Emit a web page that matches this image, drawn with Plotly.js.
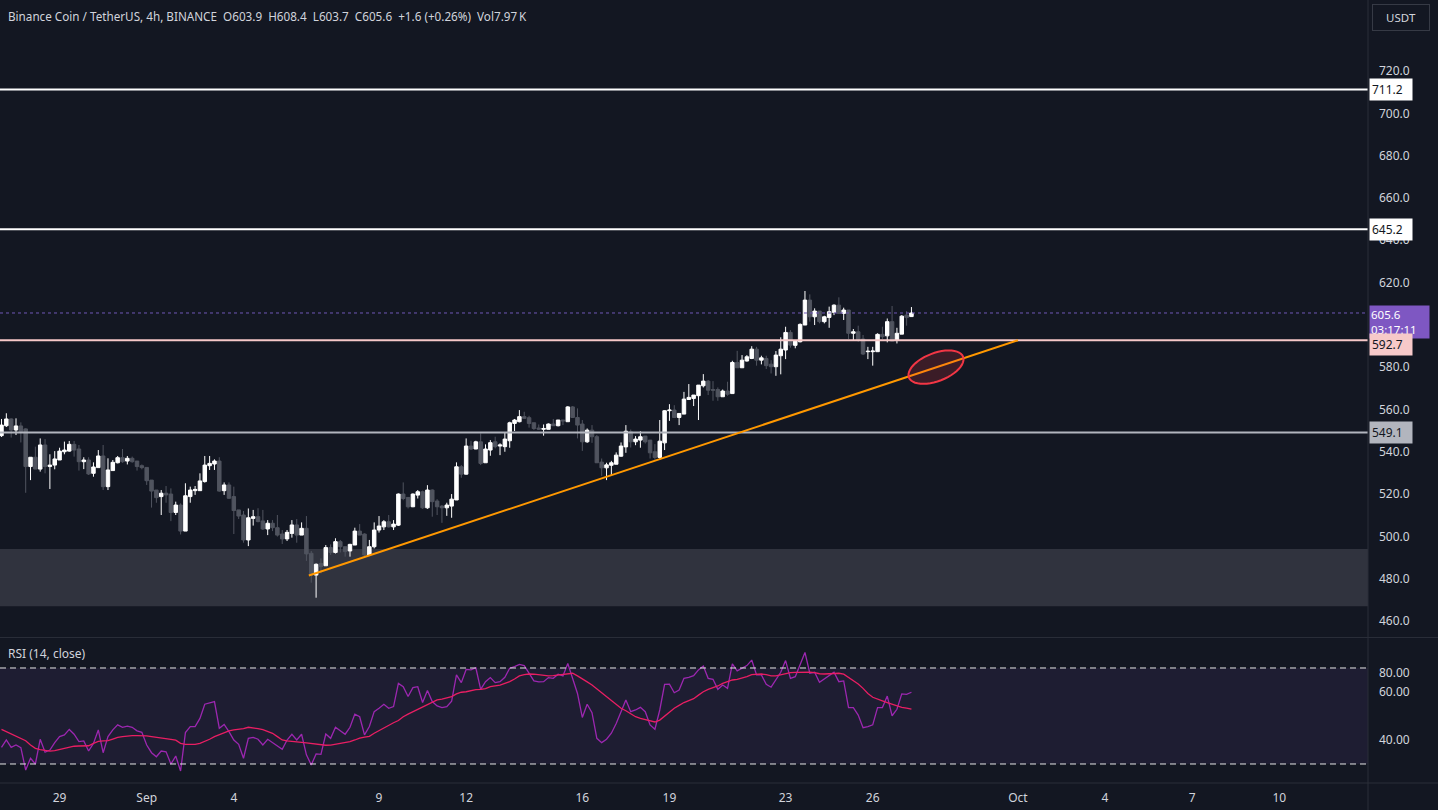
<!DOCTYPE html>
<html><head><meta charset="utf-8">
<script src="https://cdn.plot.ly/plotly-3.0.1.min.js"></script>
<style>html,body{margin:0;padding:0;background:#131722;overflow:hidden}#chart{width:1438px;height:810px}</style>
</head><body><div id="chart"></div>
<script>
// ---- data (4h candles, BNB/USDT) ----
const startTime = '2024-08-27T00:00:00Z';
const barHours = 4;
const openP = [547.6,552.3,555.5,550.3,552.2,550.8,533.0,537.4,531.8,543.2,
533.0,533.7,536.1,540.0,540.3,543.5,541.3,535.3,536.1,529.8,
532.5,538.0,523.5,531.1,534.8,537.2,535.6,536.9,535.6,533.4,
532.6,526.6,521.9,518.8,520.4,520.0,511.3,514.8,502.5,518.8,
521.6,521.6,525.9,533.4,534.2,535.6,521.6,524.3,518.8,512.5,
510.1,498.3,508.5,509.3,507.3,503.5,506.2,504.1,501.1,498.8,
501.4,505.4,500.6,503.8,492.0,481.7,487.2,486.1,494.7,492.4,
497.5,495.1,493.1,495.9,502.5,501.1,491.2,495.1,503.0,504.5,
506.9,504.5,505.3,520.0,518.4,514.0,519.5,521.1,513.5,521.9,
516.7,514.3,513.5,514.3,517.2,532.9,529.4,542.7,541.3,544.7,
534.8,540.8,544.7,542.7,542.4,545.2,553.4,554.2,556.6,556.1,
553.7,551.2,550.6,550.6,553.1,552.3,555.0,554.2,561.2,556.2,
553.1,544.7,550.2,547.1,535.1,532.4,533.6,534.1,537.9,542.3,
549.4,544.7,545.5,547.4,545.5,540.0,537.3,544.2,559.4,559.7,
556.2,557.8,564.7,565.2,566.5,571.2,573.4,569.4,569.4,566.0,
568.7,567.5,582.2,579.7,582.9,584.1,588.5,583.3,584.1,581.4,
580.2,585.4,588.1,596.4,590.3,592.0,599.9,611.7,603.8,606.5,
601.5,603.5,605.9,609.3,605.4,607.0,596.0,596.7,593.3,587.3,
587.3,587.3,595.5,594.8,601.5,592.8,595.6,604.6,603.9];
const highP = [555.5,558.2,555.8,555.8,553.9,551.1,537.4,542.4,546.3,546.0,
538.8,540.3,541.9,544.8,545.1,545.1,543.2,537.4,537.4,535.0,
540.8,543.2,536.9,536.1,538.0,541.3,538.0,537.7,535.6,534.0,
532.6,526.6,521.9,521.9,523.8,522.7,516.4,515.6,525.1,523.5,
523.8,529.8,538.0,538.0,536.4,537.4,525.5,525.5,523.5,512.5,
512.0,513.2,512.5,513.3,512.5,507.7,507.7,510.1,503.0,503.0,
507.7,508.2,506.6,509.6,493.1,487.2,489.6,495.9,496.2,499.1,
498.3,495.1,496.5,504.1,505.8,501.4,498.3,506.6,509.6,507.7,
510.1,507.7,520.3,525.5,518.4,520.3,521.9,521.6,524.2,522.2,
517.6,514.8,515.9,520.0,535.0,533.7,546.3,545.2,545.2,548.7,
543.5,545.5,547.1,544.0,549.2,554.2,555.5,559.7,558.9,557.0,
553.7,552.9,552.9,553.4,555.5,555.0,555.0,561.6,561.6,560.5,
555.0,551.0,552.6,547.9,536.8,534.8,535.7,539.7,544.4,552.6,
550.5,547.4,549.7,547.4,545.5,543.6,555.0,559.7,562.5,562.0,
558.1,568.3,572.0,566.8,571.5,576.7,573.9,573.4,570.4,569.4,
573.1,583.0,587.7,585.7,585.7,589.9,589.6,585.4,585.4,583.3,
587.6,594.1,599.1,597.5,592.3,600.7,616.0,614.4,607.8,606.5,
604.3,608.6,609.7,613.0,608.1,607.0,598.0,599.6,595.2,589.6,
589.6,596.0,599.1,603.0,608.9,598.6,604.6,606.5,608.4];
const lowP = [547.0,551.7,546.7,547.9,544.4,520.6,526.6,531.8,530.6,529.8,
522.4,531.7,536.1,538.8,540.0,537.7,531.1,531.8,529.0,528.2,
532.5,521.9,521.9,531.1,534.5,534.8,534.0,534.8,531.1,531.7,
524.3,513.6,515.9,510.1,515.9,507.2,510.1,500.9,502.5,515.9,
519.6,521.6,525.4,531.4,531.4,521.1,519.6,517.7,501.1,508.2,
497.0,495.4,505.1,506.6,503.0,500.6,502.5,499.9,496.4,497.8,
499.4,497.0,500.6,488.4,478.1,471.0,482.5,486.1,491.2,491.9,
492.4,490.4,490.4,495.9,500.6,490.7,490.7,494.3,501.8,503.0,
504.2,503.0,504.9,517.1,513.2,513.8,517.9,513.0,513.0,509.3,
510.1,506.4,509.7,508.8,517.2,527.7,529.2,540.8,541.2,533.7,
534.8,538.1,541.6,538.4,540.0,541.9,549.8,553.9,555.5,551.4,
550.3,550.3,547.6,550.6,552.3,552.0,552.6,554.2,556.2,546.3,
540.4,544.2,544.2,534.8,528.6,526.6,528.9,534.1,537.6,539.5,
542.0,543.1,541.9,543.9,536.8,536.3,536.3,540.8,554.6,556.2,
552.6,557.8,564.7,561.6,555.0,570.4,566.8,564.1,564.1,566.0,
566.5,567.5,579.7,579.7,582.6,583.8,580.7,581.3,579.1,577.0,
575.9,576.6,583.8,589.2,588.9,591.7,599.9,601.5,599.9,600.7,
600.7,598.6,604.6,605.4,602.3,593.3,592.8,592.0,585.7,583.8,
580.7,587.3,593.3,591.7,592.3,591.2,595.6,599.6,603.7];
const closeP = [552.6,555.5,550.3,552.2,549.5,533.0,537.4,531.8,543.2,533.0,
533.7,536.6,540.3,540.8,543.5,540.8,535.3,536.1,529.5,532.8,
538.0,523.5,531.4,535.0,537.2,535.3,536.9,535.3,533.0,532.5,
526.3,521.4,518.3,520.4,519.6,511.3,514.8,502.5,519.2,521.9,
522.2,526.2,533.7,534.5,535.6,521.4,524.3,518.0,512.2,509.6,
498.3,508.8,509.3,507.0,503.5,506.2,504.1,500.6,498.8,501.9,
505.4,500.6,503.8,491.7,481.7,486.8,485.7,494.7,492.4,497.5,
495.1,492.8,496.2,502.5,500.6,491.2,495.1,503.0,504.9,506.9,
504.5,505.8,520.0,517.9,514.0,520.0,521.1,513.5,521.9,516.4,
514.0,513.5,514.8,517.6,532.9,529.4,542.7,541.3,544.7,534.5,
541.3,544.3,542.4,543.2,546.0,553.7,555.0,556.6,555.8,553.4,
551.0,550.7,551.0,553.1,552.3,555.0,554.6,561.2,556.2,552.6,
544.7,550.2,547.1,534.8,532.4,533.8,534.8,538.4,542.7,549.7,
544.7,546.0,547.1,544.7,539.5,537.3,545.0,559.4,559.7,556.2,
558.1,564.9,565.7,566.8,571.5,573.4,569.1,569.1,566.0,568.7,
567.2,582.2,579.7,583.3,584.9,588.5,583.3,584.4,580.7,580.2,
585.7,588.5,596.4,590.4,592.3,600.2,611.7,603.8,606.5,601.5,
603.8,606.2,609.3,605.4,607.0,596.0,596.7,592.8,586.2,587.5,
587.6,595.5,594.4,601.5,592.3,596.0,604.1,603.4,605.6];
const rsiValues = [36.9,40.0,36.9,37.9,36.8,27.5,32.4,30.0,40.3,34.9,
35.8,38.9,41.4,42.1,44.4,42.4,39.3,39.6,35.4,38.6,
44.2,34.7,41.4,44.2,46.3,45.3,45.8,45.3,43.8,43.2,
37.9,34.7,33.0,35.4,35.1,30.0,33.3,27.1,43.1,45.6,
45.6,49.0,54.9,55.6,56.0,44.9,46.5,43.5,40.0,38.2,
32.4,40.7,41.1,40.3,37.9,40.3,39.0,37.5,36.1,40.0,
42.4,40.0,42.4,33.8,29.6,34.2,34.0,42.5,40.7,45.3,
43.9,42.4,45.3,50.8,49.7,42.1,45.6,51.8,53.2,54.9,
53.2,53.9,63.6,62.2,58.1,61.8,62.2,55.6,60.6,56.0,
54.2,53.5,53.9,56.2,67.1,63.9,69.4,69.2,70.1,61.1,
64.3,66.0,63.9,64.3,66.1,69.9,70.6,71.5,71.0,67.8,
64.6,64.2,64.3,66.0,65.7,67.4,66.7,71.9,65.3,59.4,
49.4,54.9,51.4,40.7,38.9,40.3,42.8,46.9,51.8,56.7,
51.8,52.5,53.6,51.8,46.3,44.5,52.5,63.2,63.3,59.7,
60.8,65.7,66.1,66.8,69.2,70.8,65.7,65.3,61.1,62.9,
61.5,71.7,68.8,69.9,71.0,73.3,67.1,67.1,63.2,62.0,
65.4,68.2,73.1,65.7,66.4,71.3,76.5,67.8,68.2,64.0,
65.4,66.8,68.2,64.3,64.6,53.5,53.5,50.4,45.1,45.6,
46.3,53.5,53.5,58.3,50.1,52.8,59.2,59.0,59.9];
const rsiMAValues = [44.4,43.5,42.4,41.4,40.6,39.7,37.9,36.5,36.0,35.6,
35.4,35.6,36.1,36.7,37.1,37.4,37.5,37.5,37.6,38.6,
39.4,39.6,39.7,40.4,41.1,41.4,41.7,41.8,41.8,41.8,
41.7,41.4,41.2,40.9,40.7,40.3,39.9,38.6,38.2,38.2,
38.2,38.6,39.3,40.3,41.4,42.2,43.1,43.8,44.2,44.4,
44.7,45.3,45.1,44.7,44.3,43.6,42.8,41.4,40.0,39.6,
39.3,39.2,39.0,38.8,38.5,38.1,37.8,37.8,37.9,38.2,
38.5,38.9,39.3,40.0,40.8,41.2,41.5,42.8,43.9,45.1,
46.3,47.2,48.1,49.7,50.8,51.8,52.9,53.9,55.0,55.8,
56.7,57.0,57.4,58.1,59.2,59.9,60.1,60.6,61.0,61.1,
61.4,62.2,62.5,62.9,63.6,64.3,65.4,66.7,67.2,67.5,
67.4,67.1,66.8,66.7,66.8,67.1,67.2,67.6,67.8,66.7,
65.3,64.2,62.9,61.3,59.7,58.1,56.4,54.6,53.2,52.2,
50.8,49.7,49.0,48.6,48.0,47.5,48.3,50.0,51.8,53.2,
54.4,55.6,56.4,57.2,58.7,60.1,61.1,61.8,62.5,63.6,
64.4,65.0,65.3,65.7,66.4,67.2,67.5,67.5,67.2,66.7,
66.7,67.2,67.8,68.1,68.2,68.3,68.5,68.3,68.1,67.6,
67.5,67.6,67.8,67.8,67.4,66.1,64.7,63.3,61.5,59.4,
57.8,56.9,56.3,55.6,54.9,54.2,53.6,53.3,52.9];

const levelPrices = [711.2, 645.2, 592.7, 549.1];
const zoneLow = 467.0, zoneHigh = 494.0;
const lastPrice = 605.6;
const countdown = '03:17:11';
const trendStart = {t: '2024-09-06 14:00', p: 481.5};
const trendEnd = {t: '2024-10-01 00:00', p: 592.7};
const markCenter = {t: '2024-09-28 04:18', p: 580.0};
const tickDates = ['2024-08-29','2024-09-01','2024-09-04','2024-09-09','2024-09-12','2024-09-16','2024-09-19','2024-09-23','2024-09-26','2024-10-01','2024-10-04','2024-10-07','2024-10-10'];
const tickText = ['29','Sep','4','9','12','16','19','23','26','Oct','4','7','10'];
// 600.0 is hidden under the live-price box in the reference
const priceTicks = [460,480,500,520,540,560,580,620,640,660,680,700,720];
const rsiTicks = [40, 60];
const headerText = 'Binance Coin / TetherUS, 4h, BINANCE\u00a0\u00a0O603.9\u00a0\u00a0H608.4\u00a0\u00a0L603.7\u00a0\u00a0C605.6\u00a0\u00a0+1.6 (+0.26%)\u00a0\u00a0Vol7.97\u2009K';

// ---- build ----
function fmt(ms){ return new Date(ms).toISOString().slice(0,16).replace('T',' '); }
const t0 = Date.parse(startTime);
const times = openP.map((_, i) => fmt(t0 + i * barHours * 3600e3));

const FONT = 'Noto Sans, Roboto, sans-serif';
const TXT = '#d1d4dc';
const BG = '#131722';
const SEP = '#2a2e39';

const traces = [
  {type:'candlestick', x:times, open:openP, high:highP, low:lowP, close:closeP,
   xaxis:'x', yaxis:'y', whiskerwidth:0, hoverinfo:'skip',
   increasing:{line:{color:'#ffffff', width:1}, fillcolor:'#ffffff'},
   decreasing:{line:{color:'#50545f', width:1}, fillcolor:'#50545f'}},
  {type:'scatter', mode:'lines', x:times, y:rsiValues, xaxis:'x', yaxis:'y2',
   line:{color:'#9c27b0', width:1.3}, hoverinfo:'skip'},
  {type:'scatter', mode:'lines', x:times, y:rsiMAValues, xaxis:'x', yaxis:'y2',
   line:{color:'#e91e63', width:1.3}, hoverinfo:'skip'}
];

// rotated ellipse path (pixel offsets around anchor)
function ellipsePath(a, b, deg){
  const th = deg * Math.PI / 180; let s = '';
  for (let k = 0; k <= 48; k++){
    const u = k / 48 * 2 * Math.PI;
    const px = a*Math.cos(u)*Math.cos(th) - b*Math.sin(u)*Math.sin(th);
    const py = a*Math.cos(u)*Math.sin(th) + b*Math.sin(u)*Math.cos(th);
    s += (k === 0 ? 'M' : 'L') + px.toFixed(2) + ',' + py.toFixed(2);
  }
  return s + 'Z';
}

const levelStyles = [
  {color:'#ffffff', bg:'#ffffff', fg:'#131722', shift:0},
  {color:'#ffffff', bg:'#ffffff', fg:'#131722', shift:0},
  {color:'#f7c9c9', bg:'#f7c9c9', fg:'#131722', shift:-4},
  {color:'#b2b5be', bg:'#b2b5be', fg:'#131722', shift:0}
];

const shapes = [
  {type:'rect', xref:'paper', x0:0, x1:1, yref:'y', y0:zoneLow, y1:zoneHigh, fillcolor:'#30333e', line:{width:0}, layer:'below'},
  {type:'rect', xref:'paper', x0:0, x1:1, yref:'y2', y0:30, y1:70, fillcolor:'rgba(126,87,194,0.1)', line:{width:0}, layer:'below'},
  {type:'line', xref:'paper', x0:0, x1:1, yref:'y2', y0:70, y1:70, line:{color:'#e6e6e6', width:1, dash:'6px,4px'}},
  {type:'line', xref:'paper', x0:0, x1:1, yref:'y2', y0:30, y1:30, line:{color:'#e6e6e6', width:1, dash:'6px,4px'}},
  {type:'line', xref:'paper', x0:0, x1:1, yref:'y', y0:lastPrice, y1:lastPrice, line:{color:'#6f58b8', width:1, dash:'dot'}},
];
levelPrices.forEach((p, i) => shapes.push({type:'line', xref:'paper', x0:0, x1:1, yref:'y', y0:p, y1:p, line:{color:levelStyles[i].color, width:2}}));
shapes.push({type:'line', xref:'x', yref:'y', x0:trendStart.t, y0:trendStart.p, x1:trendEnd.t, y1:trendEnd.p, line:{color:'#ff9800', width:2}});
shapes.push({type:'path', xref:'x', yref:'y', xsizemode:'pixel', ysizemode:'pixel', xanchor:markCenter.t, yanchor:markCenter.p,
  path:ellipsePath(29, 14, 21), fillcolor:'rgba(242,54,69,0.18)', line:{color:'#f23645', width:2}});
// pane separators
shapes.push({type:'line', xref:'paper', yref:'paper', x0:1, x1:1, y0:-0.04, y1:1, line:{color:SEP, width:1}});
shapes.push({type:'line', xref:'paper', yref:'paper', x0:0, x1:1.06, y0:0.1858, y1:0.1858, line:{color:SEP, width:1}});
shapes.push({type:'line', xref:'paper', yref:'paper', x0:0, x1:1.06, y0:0, y1:0, line:{color:SEP, width:1}});

const annotations = [
  {xref:'paper', yref:'paper', x:0, y:1, xanchor:'left', yanchor:'top', xshift:6, yshift:-6, showarrow:false,
   text:headerText, font:{family:FONT, size:11.7, color:TXT}},
  {xref:'paper', yref:'paper', x:0, y:0.166, xanchor:'left', yanchor:'middle', xshift:6, showarrow:false,
   text:'RSI (14, close)', font:{family:FONT, size:12, color:TXT}},
  {xref:'paper', yref:'paper', x:1, y:1, xanchor:'left', yanchor:'top', xshift:4, yshift:-4, showarrow:false,
   text:'USDT', font:{family:FONT, size:11.5, color:TXT}, bordercolor:'#363a45', borderwidth:1, borderpad:5, bgcolor:BG, width:46},
  {xref:'paper', yref:'y2', x:1, y:68.3, xanchor:'left', yanchor:'middle', xshift:9, showarrow:false,
   text:'80.00', font:{family:FONT, size:12, color:TXT}}
];
// current-price box first, so the level labels are drawn over it
annotations.push({xref:'paper', yref:'y', x:1, y:lastPrice, xanchor:'left', yanchor:'top', xshift:1, yshift:8, showarrow:false,
  text:lastPrice.toFixed(1) + '<br>' + countdown, align:'left', width:57,
  font:{family:FONT, size:11.5, color:'#ffffff'}, bgcolor:'#7e57c2', borderpad:1});
levelPrices.forEach((p, i) => annotations.push({xref:'paper', yref:'y', x:1, y:p, xanchor:'left', yanchor:'middle', xshift:1,
  yshift:levelStyles[i].shift, showarrow:false, text:p.toFixed(1), align:'left', width:38,
  font:{family:FONT, size:12, color:levelStyles[i].fg}, bgcolor:levelStyles[i].bg, borderpad:2}));

const axisFont = {family:FONT, size:12, color:TXT};
const layout = {
  width:1438, height:810, paper_bgcolor:BG, plot_bgcolor:BG,
  margin:{l:0, r:70, t:0, b:27}, showlegend:false, hovermode:false,
  boxgap:0.2, boxgroupgap:0.1,
  xaxis:{type:'date', domain:[0,1], anchor:'y2', range:['2024-08-26 22:46','2024-10-13 01:18'],
    rangeslider:{visible:false}, showgrid:false, zeroline:false, showline:false, ticks:'',
    tickmode:'array', tickvals:tickDates, ticktext:tickText, tickfont:axisFont, ticklabelstandoff:6},
  yaxis:{domain:[0.1865,1], range:[452.44,753.56], side:'right', anchor:'x', showgrid:false, zeroline:false, showline:false,
    ticks:'', tickmode:'array', tickvals:priceTicks, ticktext:priceTicks.map(v => v.toFixed(1)), tickfont:axisFont, ticklabelstandoff:10},
  yaxis2:{domain:[0,0.1852], range:[22.08,82.5], side:'right', anchor:'x', showgrid:false, zeroline:false, showline:false,
    ticks:'', tickmode:'array', tickvals:rsiTicks, ticktext:rsiTicks.map(v => v.toFixed(2)), tickfont:axisFont, ticklabelstandoff:10},
  shapes:shapes, annotations:annotations
};

Plotly.newPlot('chart', traces, layout, {staticPlot:true, displayModeBar:false});
</script></body></html>
